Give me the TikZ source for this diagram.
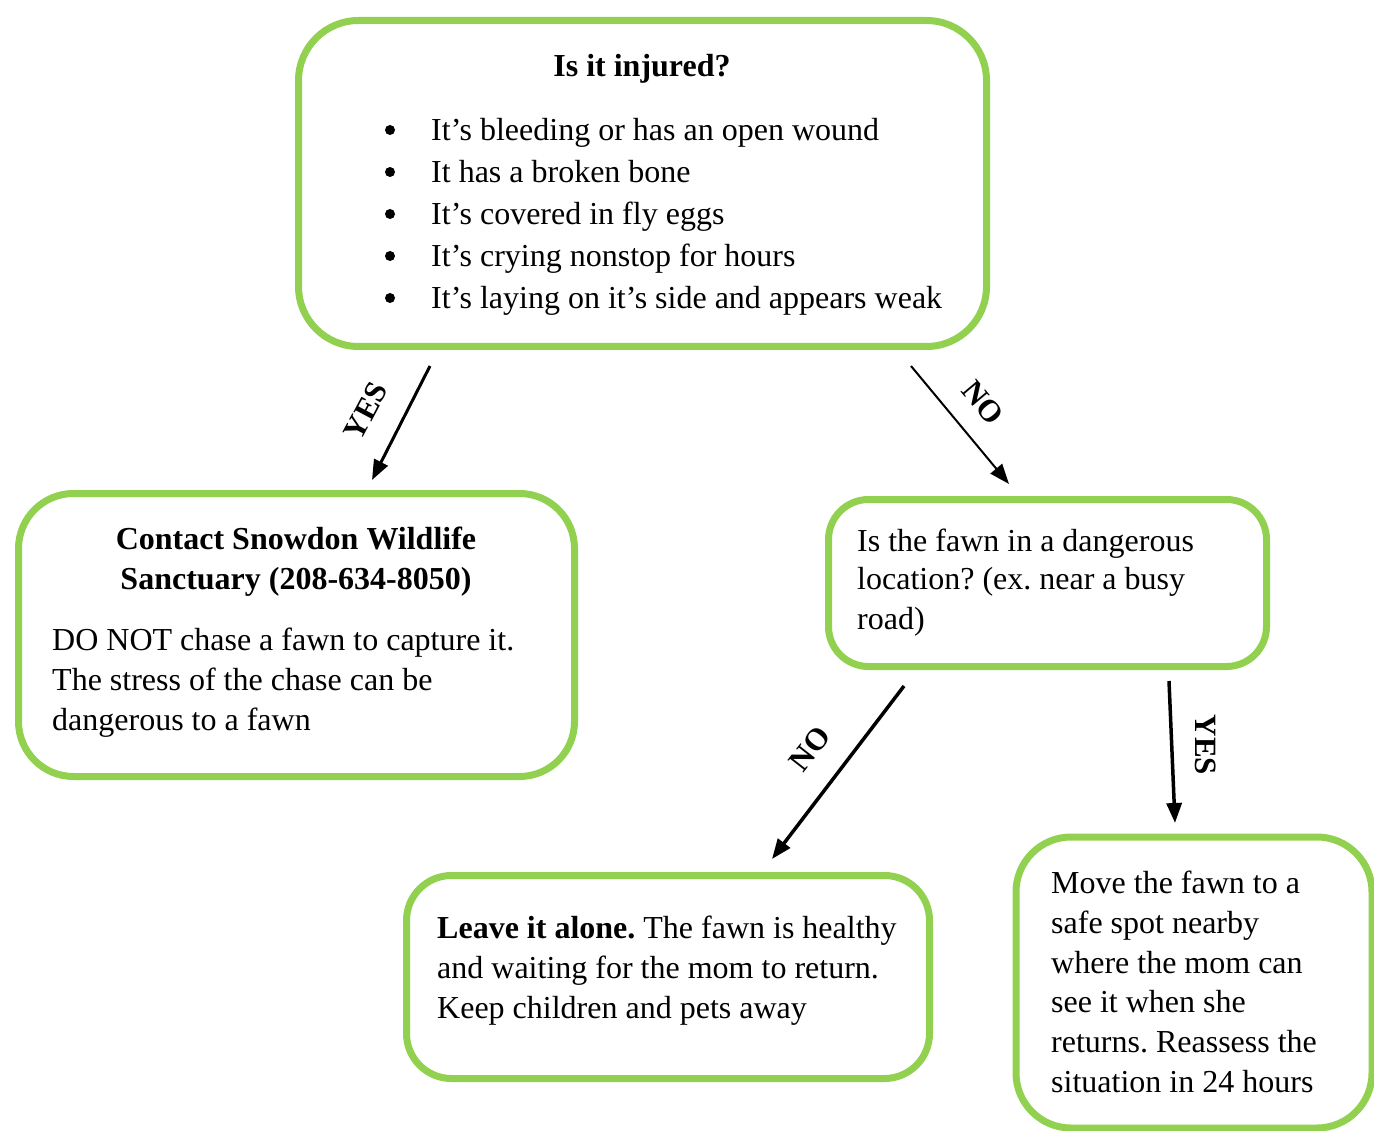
\documentclass[tikz,border=0pt]{standalone}
\usepackage{fontspec}
\setmainfont{Liberation Serif}
\usetikzlibrary{arrows.meta}
\definecolor{boxgreen}{HTML}{92D050}
\frenchspacing
\begin{document}
\begin{tikzpicture}[x=1pt,y=-1pt,
  box/.style={draw=boxgreen, line width=7pt, rectangle, fill=white},
  txt/.style={anchor=base west, inner sep=0pt, font=\fontsize{32}{40}\selectfont},
  ctxt/.style={anchor=base, inner sep=0pt, font=\fontsize{32}{40}\selectfont\bfseries},
  lbl/.style={inner sep=0pt, font=\fontsize{31}{31}\selectfont\bfseries},
  arr/.style={-{Triangle[length=20pt,width=15pt]}, line width=3pt},
  dot/.style={circle, fill=black, inner sep=0pt, minimum size=10pt}]
\useasboundingbox (0,0) rectangle (1374,1131);
% boxes
\node[box, rounded corners=60pt, minimum width=688pt, minimum height=326pt] (top) at (642.5,183.5) {};
\node[box, rounded corners=55pt, minimum width=556pt, minimum height=283pt] (left) at (296.5,635) {};
\node[box, rounded corners=40pt, minimum width=438pt, minimum height=167pt] (mid) at (1047.5,583) {};
\node[box, rounded corners=45pt, minimum width=523pt, minimum height=203pt] (bot) at (668,977) {};
\node[box, rounded corners=55pt, minimum width=356pt, minimum height=291pt] (br) at (1194,982.5) {};
% top box text
\node[ctxt] (t0) at (642,77) {Is it injured?};
\node[dot] (b1) at (390,130) {};
\node[dot] (b2) at (390,172) {};
\node[dot] (b3) at (390,214) {};
\node[dot] (b4) at (390,256) {};
\node[dot] (b5) at (390,298) {};
\node[txt] (t1) at (431,141) {It’s bleeding or has an open wound};
\node[txt] (t2) at (431,183) {It has a broken bone};
\node[txt] (t3) at (431,225) {It’s covered in fly eggs};
\node[txt] (t4) at (431,267) {It’s crying nonstop for hours};
\node[txt] (t5) at (431,309) {It’s laying on it’s side and appears weak};
% left box text
\node[ctxt] (l0) at (296,549) {Contact Snowdon Wildlife};
\node[ctxt] (l1) at (296,589) {Sanctuary (208-634-8050)};
\node[txt] (l2) at (52,650) {DO NOT chase a fawn to capture it.};
\node[txt] (l3) at (52,690) {The stress of the chase can be};
\node[txt] (l4) at (52,730) {dangerous to a fawn};
% middle box text
\node[txt] (m1) at (857,551) {Is the fawn in a dangerous};
\node[txt] (m2) at (857,589) {location? (ex. near a busy};
\node[txt] (m3) at (857,629) {road)};
% bottom centre text
\node[txt] (c1) at (437,938) {\textbf{Leave it alone.} The fawn is healthy};
\node[txt] (c2) at (437,978) {and waiting for the mom to return.};
\node[txt] (c3) at (437,1018) {Keep children and pets away};
% bottom right text
\node[txt] (r1) at (1051,893) {Move the fawn to a};
\node[txt] (r2) at (1051,933) {safe spot nearby};
\node[txt] (r3) at (1051,973) {where the mom can};
\node[txt] (r4) at (1051,1012) {see it when she};
\node[txt] (r5) at (1051,1052) {returns. Reassess the};
\node[txt] (r6) at (1051,1092) {situation in 24 hours};
% arrows
\coordinate (a1s) at (430,366); \coordinate (a1e) at (372,480);
\coordinate (a2s) at (911,366); \coordinate (a2e) at (1009,484);
\coordinate (a3s) at (904,686); \coordinate (a3e) at (772,859);
\coordinate (a4s) at (1169,681); \coordinate (a4e) at (1175,823);
\draw[arr] (a1s) -- (a1e);
\draw[arr, line width=2pt] (a2s) -- (a2e);
\draw[arr, line width=3.5pt] (a3s) -- (a3e);
\draw[arr, line width=3.5pt] (a4s) -- (a4e);
\node[lbl, rotate=62] (y1) at (366,411) {YES};
\node[lbl, rotate=-50] (n1) at (983,403) {NO};
\node[lbl, rotate=52] (n2) at (810,749) {NO};
\node[lbl, rotate=-90] (y2) at (1206,745) {YES};
\end{tikzpicture}
\end{document}
